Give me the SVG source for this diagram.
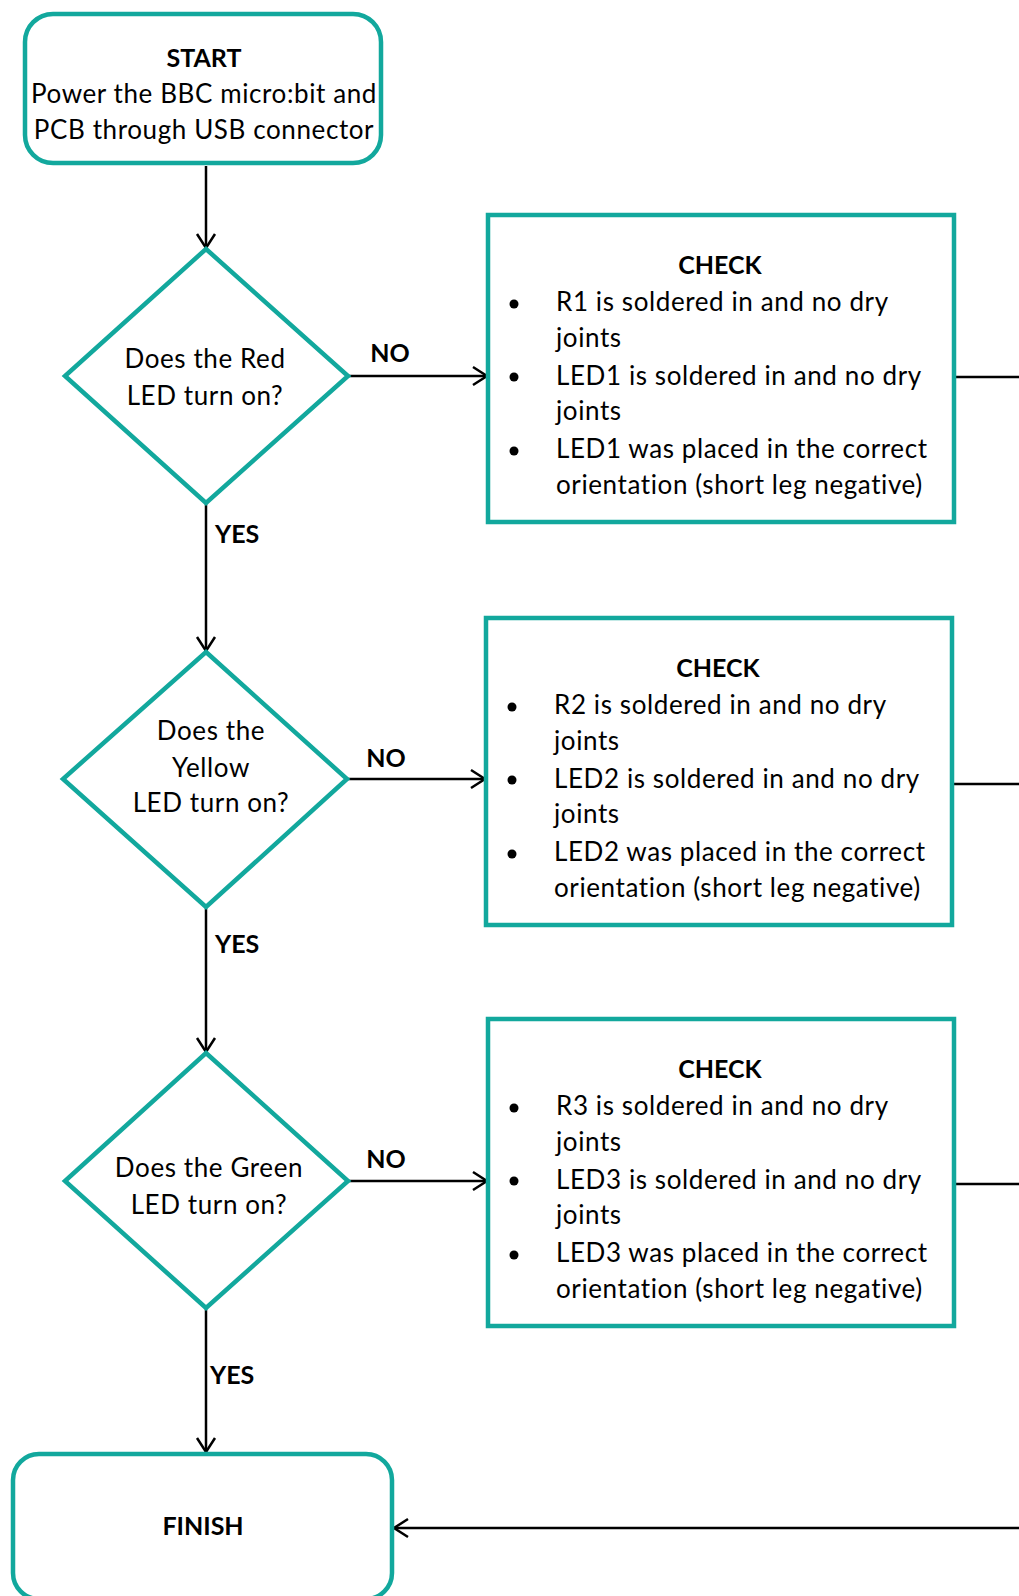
<svg xmlns="http://www.w3.org/2000/svg" width="1019" height="1596" viewBox="0 0 1019 1596">
<style>
.shape{fill:#ffffff;stroke:#12A89D;stroke-width:4.5}
.t{font-family:Lato,"Liberation Sans",sans-serif;font-size:26px;letter-spacing:0.6px;fill:#000}
.b{font-family:Lato,"Liberation Sans",sans-serif;font-size:25px;font-weight:bold;fill:#000}
.c{text-anchor:middle}
.conn{stroke:#000;stroke-width:2.5;fill:none}
</style>
<defs>
<marker id="arr" markerUnits="userSpaceOnUse" markerWidth="30" markerHeight="30" refX="15" refY="10" viewBox="0 0 30 20" orient="auto">
<path d="M1 1 L15 10 L1 19" fill="none" stroke="#000" stroke-width="2.5"/>
</marker>
</defs>
<rect width="1019" height="1596" fill="#fff"/>
<g id="connectors">
<line class="conn" x1="206" y1="166" x2="206" y2="248" marker-end="url(#arr)"/>
<line class="conn" x1="348" y1="376" x2="487" y2="376" marker-end="url(#arr)"/>
<line class="conn" x1="206" y1="504" x2="206" y2="651" marker-end="url(#arr)"/>
<line class="conn" x1="347" y1="779" x2="485" y2="779" marker-end="url(#arr)"/>
<line class="conn" x1="206" y1="907" x2="206" y2="1052" marker-end="url(#arr)"/>
<line class="conn" x1="348" y1="1181" x2="487" y2="1181" marker-end="url(#arr)"/>
<line class="conn" x1="206" y1="1309" x2="206" y2="1452" marker-end="url(#arr)"/>
<line class="conn" x1="954" y1="377" x2="1019" y2="377"/>
<line class="conn" x1="952" y1="784" x2="1019" y2="784"/>
<line class="conn" x1="954" y1="1184" x2="1019" y2="1184"/>
<line class="conn" x1="1019" y1="1528" x2="394" y2="1528" marker-end="url(#arr)"/>
<text class="b" x="390" y="362" text-anchor="middle">NO</text>
<text class="b" x="386" y="767" text-anchor="middle">NO</text>
<text class="b" x="386" y="1168" text-anchor="middle">NO</text>
<text class="b" x="215" y="543">YES</text>
<text class="b" x="215" y="953">YES</text>
<text class="b" x="210" y="1384">YES</text>
</g>
<g id="start">
<rect class="shape" x="25" y="14" width="356" height="149" rx="28"/>
<text class="b c" x="204" y="67">START</text>
<text class="t c" x="204" y="103">Power the BBC micro:bit and</text>
<text class="t c" x="204" y="139">PCB through USB connector</text>
</g>
<g id="decision1">
<polygon class="shape" points="206,249 348,376 206,503 65,376"/>
<text class="t c" x="205" y="368">Does the Red</text>
<text class="t c" x="205" y="405">LED turn on?</text>
</g>
<g id="check1">
<rect class="shape" x="488" y="215" width="466" height="307"/>
<text class="b c" x="720" y="274">CHECK</text>
<circle cx="514" cy="304" r="4.5"/>
<circle cx="514" cy="377" r="4.5"/>
<circle cx="514" cy="451" r="4.5"/>
<text class="t" x="556" y="311">R1 is soldered in and no dry</text>
<text class="t" x="556" y="347">joints</text>
<text class="t" x="556" y="385">LED1 is soldered in and no dry</text>
<text class="t" x="556" y="420">joints</text>
<text class="t" x="556" y="458">LED1 was placed in the correct</text>
<text class="t" x="556" y="494">orientation (short leg negative)</text>
</g>
<g id="decision2">
<polygon class="shape" points="206,652 347,779 206,907 63,779"/>
<text class="t c" x="211" y="740">Does the</text>
<text class="t c" x="211" y="777">Yellow</text>
<text class="t c" x="211" y="812">LED turn on?</text>
</g>
<g id="check2">
<rect class="shape" x="486" y="618" width="466" height="307"/>
<text class="b c" x="718" y="677">CHECK</text>
<circle cx="512" cy="707" r="4.5"/>
<circle cx="512" cy="780" r="4.5"/>
<circle cx="512" cy="854" r="4.5"/>
<text class="t" x="554" y="714">R2 is soldered in and no dry</text>
<text class="t" x="554" y="750">joints</text>
<text class="t" x="554" y="788">LED2 is soldered in and no dry</text>
<text class="t" x="554" y="823">joints</text>
<text class="t" x="554" y="861">LED2 was placed in the correct</text>
<text class="t" x="554" y="897">orientation (short leg negative)</text>
</g>
<g id="decision3">
<polygon class="shape" points="206,1053 348,1181 206,1308 65,1181"/>
<text class="t c" x="209" y="1177">Does the Green</text>
<text class="t c" x="209" y="1214">LED turn on?</text>
</g>
<g id="check3">
<rect class="shape" x="488" y="1019" width="466" height="307"/>
<text class="b c" x="720" y="1078">CHECK</text>
<circle cx="514" cy="1108" r="4.5"/>
<circle cx="514" cy="1181" r="4.5"/>
<circle cx="514" cy="1255" r="4.5"/>
<text class="t" x="556" y="1115">R3 is soldered in and no dry</text>
<text class="t" x="556" y="1151">joints</text>
<text class="t" x="556" y="1189">LED3 is soldered in and no dry</text>
<text class="t" x="556" y="1224">joints</text>
<text class="t" x="556" y="1262">LED3 was placed in the correct</text>
<text class="t" x="556" y="1298">orientation (short leg negative)</text>
</g>
<g id="finish">
<rect class="shape" x="13" y="1454" width="379" height="145" rx="26"/>
<text class="b c" x="203" y="1535">FINISH</text>
</g>
</svg>
